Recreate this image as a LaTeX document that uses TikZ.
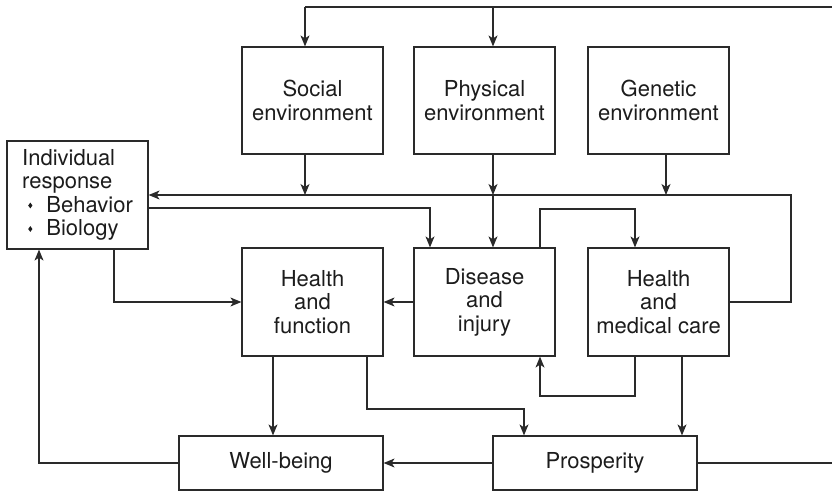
\documentclass[tikz,border=0pt]{standalone}
\usepackage{fontspec}
\setmainfont{TeX Gyre Heros}
\usetikzlibrary{arrows.meta}
\definecolor{ink}{HTML}{2A2A2A}
\definecolor{txt}{HTML}{1C1C1C}
% small diamond bullet used in the list
\newcommand\dbul{\raisebox{4pt}{\scalebox{1}[1.35]{\rotatebox{45}{\rule{3pt}{3pt}}}}}
\begin{document}
\begin{tikzpicture}[x=1pt,y=-1pt,
  box/.style={draw=ink, line width=1.2pt, text=txt, align=center, inner sep=0pt,
    minimum width=141pt, minimum height=108pt,
    font=\fontsize{22}{23.5}\selectfont},
  wide/.style={box, minimum width=204pt, minimum height=54pt},
  conn/.style={draw=ink, line width=1.2pt},
  arr/.style={conn, -{Stealth[length=11pt,width=9pt,inset=3pt]}}]
\useasboundingbox (0,0) rectangle (832,492);

% environments
\node[box, minimum height=107pt] (soc) at (312.5,100.5) {Social\\environment};
\node[box, minimum height=107pt] (phy) at (484.5,100.5) {Physical\\environment};
\node[box, minimum height=107pt] (gen) at (658.5,100.5) {Genetic\\environment};

% individual response
\node[box, align=left] (ind) at (77.5,195)
  {Individual\\response\\\hspace{6pt}\dbul\hspace{14pt}Behavior\\\hspace{6pt}\dbul\hspace{14pt}Biology};

% middle row
\node[box] (hf)  at (312.5,302) {Health\\and\\function};
\node[box] (dis) at (484.5,302) {Disease\\and\\injury};
\node[box] (hmc) at (658.5,302) {Health\\and\\medical care};

% bottom row
\node[wide] (wb)  at (281,463) {Well-being};
\node[wide] (pro) at (595,463) {Prosperity};

% top feedback line
\coordinate (topR) at (832,7);
\coordinate (tS) at (305,7);
\coordinate (tP) at (493,7);
\draw[conn] (topR) -- (tS);
\draw[arr] (tS) -- (tS |- soc.north);
\draw[arr] (tP) -- (tP |- phy.north);

% collector line feeding the individual response
\coordinate (fbR) at (791,195);
\draw[arr] (hmc.east) -| (fbR) -- (ind.east);
\coordinate (fS) at (305,195);
\coordinate (fP) at (493,195);
\coordinate (fG) at (666,195);
\draw[arr] (fS |- soc.south) -- (fS);
\draw[arr] (fP |- phy.south) -- (fP);
\draw[arr] (fP) -- (fP |- dis.north);
\draw[arr] (fG |- gen.south) -- (fG);

% individual response -> disease
\coordinate (iB) at (430,208);
\draw[arr] (iB -| ind.east) -- (iB) -- (iB |- dis.north);

% disease -> medical care
\coordinate (dH) at (540,209);
\coordinate (dH2) at (635,209);
\draw[arr] (dH |- dis.north) -- (dH) -- (dH2) -- (dH2 |- hmc.north);

% individual response -> health and function
\coordinate (iH) at (114,302);
\draw[arr] (iH |- ind.south) -- (iH) -- (hf.west);

% disease -> health and function
\draw[arr] (dis.west) -- (hf.east);

% medical care -> disease
\coordinate (hD) at (635,396);
\coordinate (hD2) at (540,396);
\draw[arr] (hD |- hmc.south) -- (hD) -- (hD2) -- (hD2 |- dis.south);

% medical care -> prosperity
\coordinate (hP) at (682,400);
\draw[arr] (hP |- hmc.south) -- (hP |- pro.north);

% health and function -> well-being, prosperity
\coordinate (hW) at (273,400);
\draw[arr] (hW |- hf.south) -- (hW |- wb.north);
\coordinate (fp1) at (367,409);
\coordinate (fp2) at (524,409);
\draw[arr] (fp1 |- hf.south) -- (fp1) -- (fp2) -- (fp2 |- pro.north);

% prosperity -> well-being, and onward
\draw[arr] (pro.west) -- (wb.east);
\coordinate (botR) at (832,463);
\draw[conn] (pro.east) -- (botR);

% well-being -> individual response
\coordinate (wI) at (39,463);
\draw[arr] (wb.west) -- (wI) -- (wI |- ind.south);
\end{tikzpicture}
\end{document}
